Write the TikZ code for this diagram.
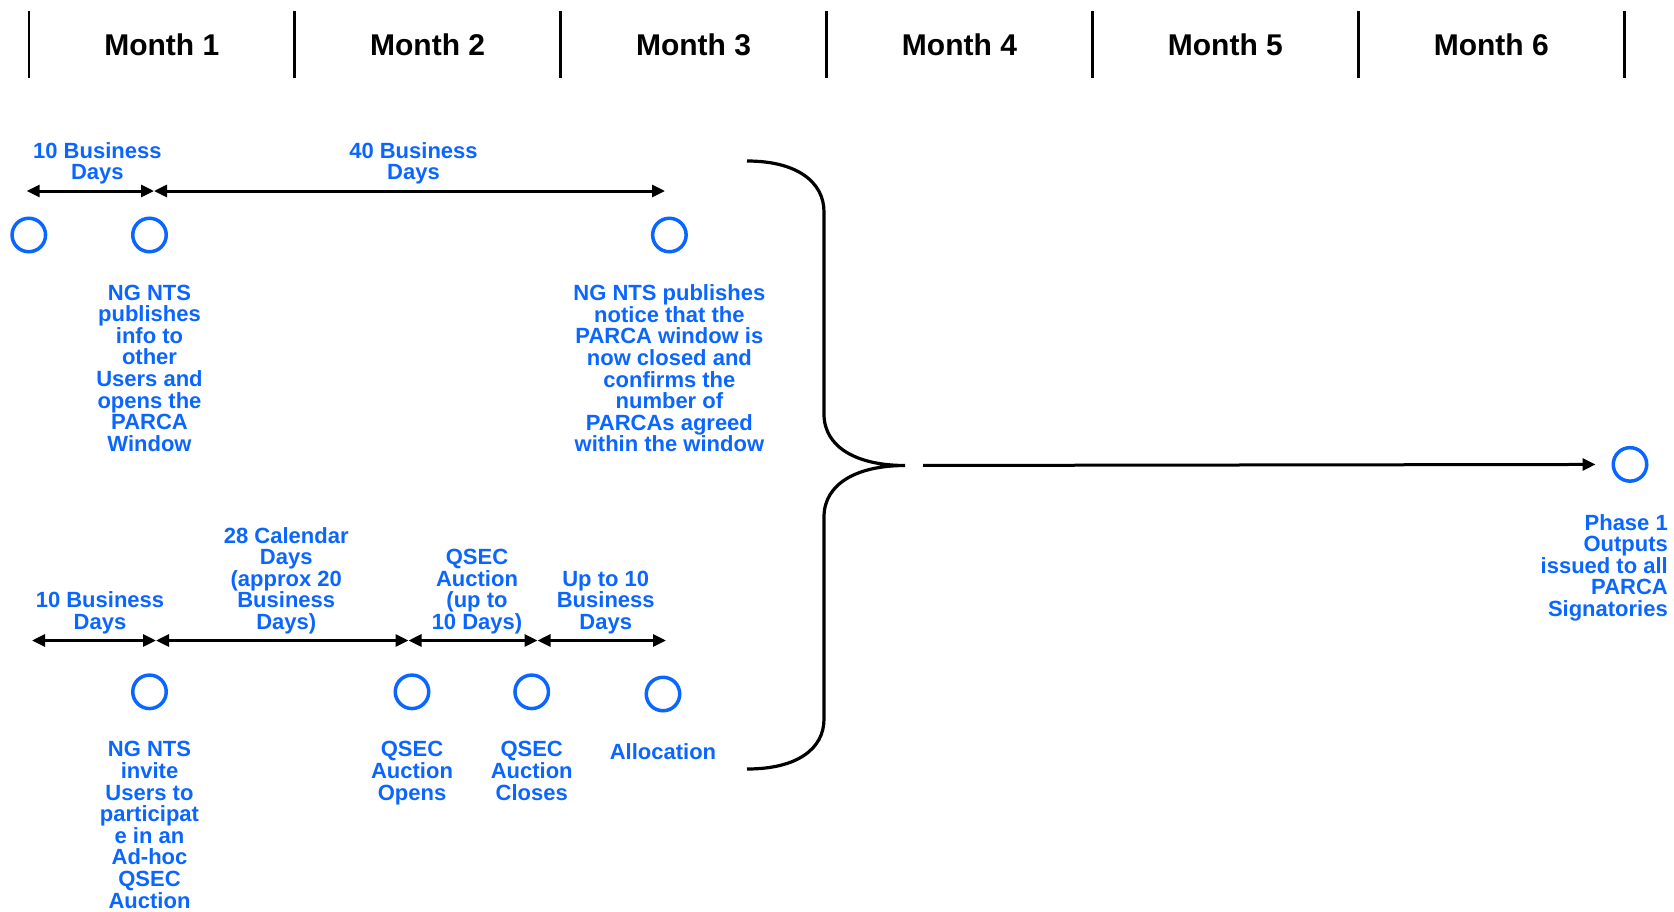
\documentclass[tikz,border=0pt]{standalone}
\usepackage{fontspec}
\setmainfont{Liberation Sans}
\usepackage{xcolor}
\usetikzlibrary{arrows.meta, calc, positioning}
\definecolor{planblue}{HTML}{0A66FF}
\tikzset{
    milestone/.style={circle, draw=planblue, line width=3.5pt, minimum size=33.5pt, inner sep=0pt},
    note/.style={text=planblue, font=\fontsize{22}{21.6}\selectfont\bfseries, align=center, inner sep=0pt},
    spanlabel/.style={note, above=5pt, xshift=4pt},
    span/.style={{Triangle[length=13pt,width=12pt]}-{Triangle[length=13pt,width=12pt]}, line width=3pt},
    arrow/.style={-{Triangle[length=13pt,width=12pt]}, line width=3pt},
    monthlabel/.style={font=\fontsize{30}{32}\selectfont\bfseries},
    divider/.style={line width=2.6pt},
    bracket/.style={line width=3.2pt},
}

\begin{document}
\begin{tikzpicture}[x=1pt, y=-1pt]
    \useasboundingbox (0,0) rectangle (1674,911);

    % month header
    \foreach \m in {0,...,6}
        \draw[divider] (28.8+265.9*\m, 11) -- (28.8+265.9*\m, 78);
    \foreach \m in {1,...,6}
        \node[monthlabel] (month\m) at (265.9*\m-104.15, 45) {Month \m};

    % PARCA window
    \node[milestone] (u0) at (28.8,235) {};
    \node[milestone] (u1) at (149.5,235) {};
    \node[milestone] (u2) at (669.4,235) {};
    \coordinate (ut0) at (26.7,191);
    \coordinate (ut1) at (154,191);
    \coordinate (ut2) at (665,191);
    \draw[span] (ut0) -- node[spanlabel, xshift=3pt] {10 Business\\Days} (ut1);
    \draw[span] (ut1) -- node[spanlabel] {40 Business\\Days} (ut2);
    \node[note, below=31pt of u1] (u1text) {NG NTS\\publishes\\info to\\other\\Users and\\opens the\\PARCA\\Window};
    \node[note, below=31pt of u2] (u2text) {NG NTS publishes\\notice that the\\PARCA window is\\now closed and\\confirms the\\number of\\PARCAs agreed\\within the window};

    % ad-hoc QSEC auction
    \node[milestone] (l1) at (149.5,691.8) {};
    \node[milestone] (l2) at (412,691.8) {};
    \node[milestone] (l3) at (531.7,691.8) {};
    \node[milestone] (l4) at (663,694) {};
    \coordinate (lt0) at (32,640.5);
    \coordinate (lt1) at (156,640.5);
    \coordinate (lt2) at (408.5,640.5);
    \coordinate (lt3) at (537.5,640.5);
    \coordinate (lt4) at (666,640.5);
    \draw[span] (lt0) -- node[spanlabel, xshift=2pt] {10 Business\\Days} (lt1);
    \draw[span] (lt1) -- node[spanlabel] {28 Calendar\\Days\\(approx 20\\Business\\Days)} (lt2);
    \draw[span] (lt2) -- node[spanlabel] {QSEC\\Auction\\(up to\\10 Days)} (lt3);
    \draw[span] (lt3) -- node[spanlabel] {Up to 10\\Business\\Days} (lt4);
    \node[note, below=31pt of l1] (l1text) {NG NTS\\invite\\Users to\\participat\\e in an\\Ad-hoc\\QSEC\\Auction};
    \node[note, below=31pt of l2] (l2text) {QSEC\\Auction\\Opens};
    \node[note, below=31pt of l3] (l3text) {QSEC\\Auction\\Closes};
    \node[note, below=31pt of l4] (l4text) {Allocation};

    % brace and outputs
    \coordinate (tip) at (905,465.5);
    \draw[bracket] (747,161) .. controls (797,161) and (824,182) .. (824,212) -- (824,414)
        .. controls (824,448) and (858,465.5) .. (tip)
        .. controls (858,465.5) and (824,483) .. (824,517) -- (824,719)
        .. controls (824,749) and (797,769) .. (747,769);
    \node[milestone] (phase) at (1630,464.4) {};
    \node[note, align=right, anchor=north east] (phasetext) at ([xshift=38pt, yshift=-31pt]phase.south) {Phase 1\\Outputs\\issued to all\\PARCA\\Signatories};
    \draw[arrow, shorten <=18pt, shorten >=16pt] (tip) -- (phase);
\end{tikzpicture}
\end{document}
